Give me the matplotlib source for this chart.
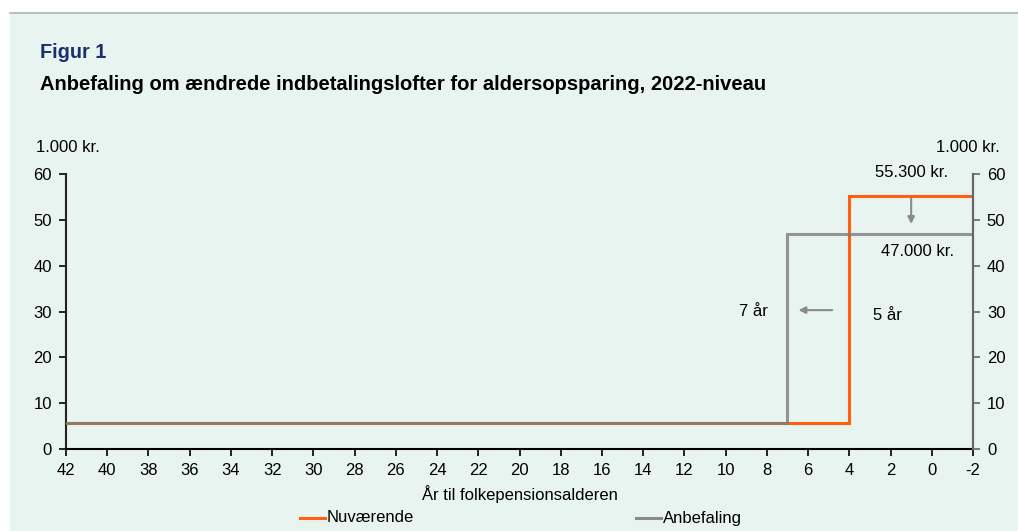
import matplotlib
matplotlib.use("Agg")
import matplotlib.pyplot as plt
import matplotlib.patches as mpatches

plt.rcParams['font.family'] = ['Liberation Sans', 'DejaVu Sans']

# Data
nuv_x = [42, 4, 4, -2]
nuvaerende = [5.6, 5.6, 55.3, 55.3]
anb_x = [42, 7, 7, -2]
anbefaling = [5.6, 5.6, 47.0, 47.0]
x_ticks = list(range(42, -3, -2))
y_ticks = [0, 10, 20, 30, 40, 50, 60]
series_names = ["Nuværende", "Anbefaling"]
title = "Figur 1"
subtitle = "Anbefaling om ændrede indbetalingslofter for aldersopsparing, 2022-niveau"

bg = "#e8f4f0"
orange = "#ff5f0f"
gray = "#7c7c7c"

W, H = 1018, 531
fig = plt.figure(figsize=(W/100, H/100), dpi=100)
fig.patch.set_facecolor("white")
fig.patches.append(mpatches.Rectangle((10/W, 0), 1 - 10/W, 1 - 13/H, transform=fig.transFigure,
                                      facecolor=bg, edgecolor="none", zorder=-10))
fig.lines.append(plt.Line2D([10/W, 1], [1 - 13/H, 1 - 13/H], transform=fig.transFigure,
                            color="#b0b0b0", lw=1.2))

fig.text(40/W, 1 - 53/H, title, fontsize=14.3, fontweight="bold", color="#1b2f6b", va="center")
fig.text(40/W, 1 - 84/H, subtitle, fontsize=14.5, fontweight="bold", color="black", va="center")

left, right = 66/W, 973/W
bottom, top = 1 - 449/H, 1 - 174/H
ax = fig.add_axes([left, bottom, right - left, top - bottom])
ax.set_facecolor("none")
ax.set_xlim(42, -2)
ax.set_ylim(0, 60)

ax.plot(nuv_x, nuvaerende, color=orange, lw=2.2, solid_joinstyle="miter", zorder=3)
ax.plot(anb_x, anbefaling, color=gray, lw=2.2, alpha=0.8, solid_joinstyle="miter", zorder=4)

ax.set_xticks(x_ticks)
ax.set_xticklabels([str(t) for t in x_ticks])
ax.set_yticks(y_ticks)
ax.spines["top"].set_visible(False)
ax.spines["left"].set_color("#222222")
ax.spines["bottom"].set_color("black")
ax.spines["right"].set_color("#666666")
for s in ax.spines.values():
    s.set_linewidth(1.5)
ax.tick_params(axis="both", labelsize=12, direction="out", length=5, width=1.2, pad=5)

ax2 = ax.twinx()
ax2.set_ylim(0, 60)
ax2.set_yticks(y_ticks)
for s in ["top", "left", "bottom"]:
    ax2.spines[s].set_visible(False)
ax2.spines["right"].set_color("#666666")
ax2.spines["right"].set_linewidth(1.5)
ax2.tick_params(axis="y", labelsize=12, direction="out", length=5, width=1.2, color="#666666", pad=5)

ax.set_xlabel("År til folkepensionsalderen", fontsize=12, labelpad=5)

fig.text(36/W, 1 - 148/H, "1.000 kr.", fontsize=12, va="center", ha="left")
fig.text(1000/W, 1 - 148/H, "1.000 kr.", fontsize=12, va="center", ha="right")

# annotations
ax.text(1.0, 60.4, "55.300 kr.", fontsize=12, ha="center", va="center")
ax.annotate("", xy=(1, 48.5), xytext=(1, 55.3),
            arrowprops=dict(arrowstyle="-|>", color="#8a8a8a", lw=1.5, mutation_scale=10))
ax.text(0.7, 43.2, "47.000 kr.", fontsize=12, ha="center", va="center")
ax.annotate("", xy=(6.6, 30.3), xytext=(4.7, 30.3),
            arrowprops=dict(arrowstyle="-|>", color="#8a8a8a", lw=1.5, mutation_scale=10))
ax.text(8.67, 30.1, "7 år", fontsize=12, ha="center", va="center")
ax.text(2.17, 29.2, "5 år", fontsize=12, ha="center", va="center")

# legend
ly = 1 - 518/H
fig.lines.append(plt.Line2D([300/W, 325/W], [ly, ly], transform=fig.transFigure, color=orange, lw=2.2))
fig.text(327/W, ly, series_names[0], fontsize=12, va="center", ha="left")
fig.lines.append(plt.Line2D([636/W, 661/W], [ly, ly], transform=fig.transFigure, color="#8a8a8a", lw=2.2))
fig.text(663/W, ly, series_names[1], fontsize=12, va="center", ha="left")

fig.savefig("out.png", dpi=100, facecolor=fig.get_facecolor())
